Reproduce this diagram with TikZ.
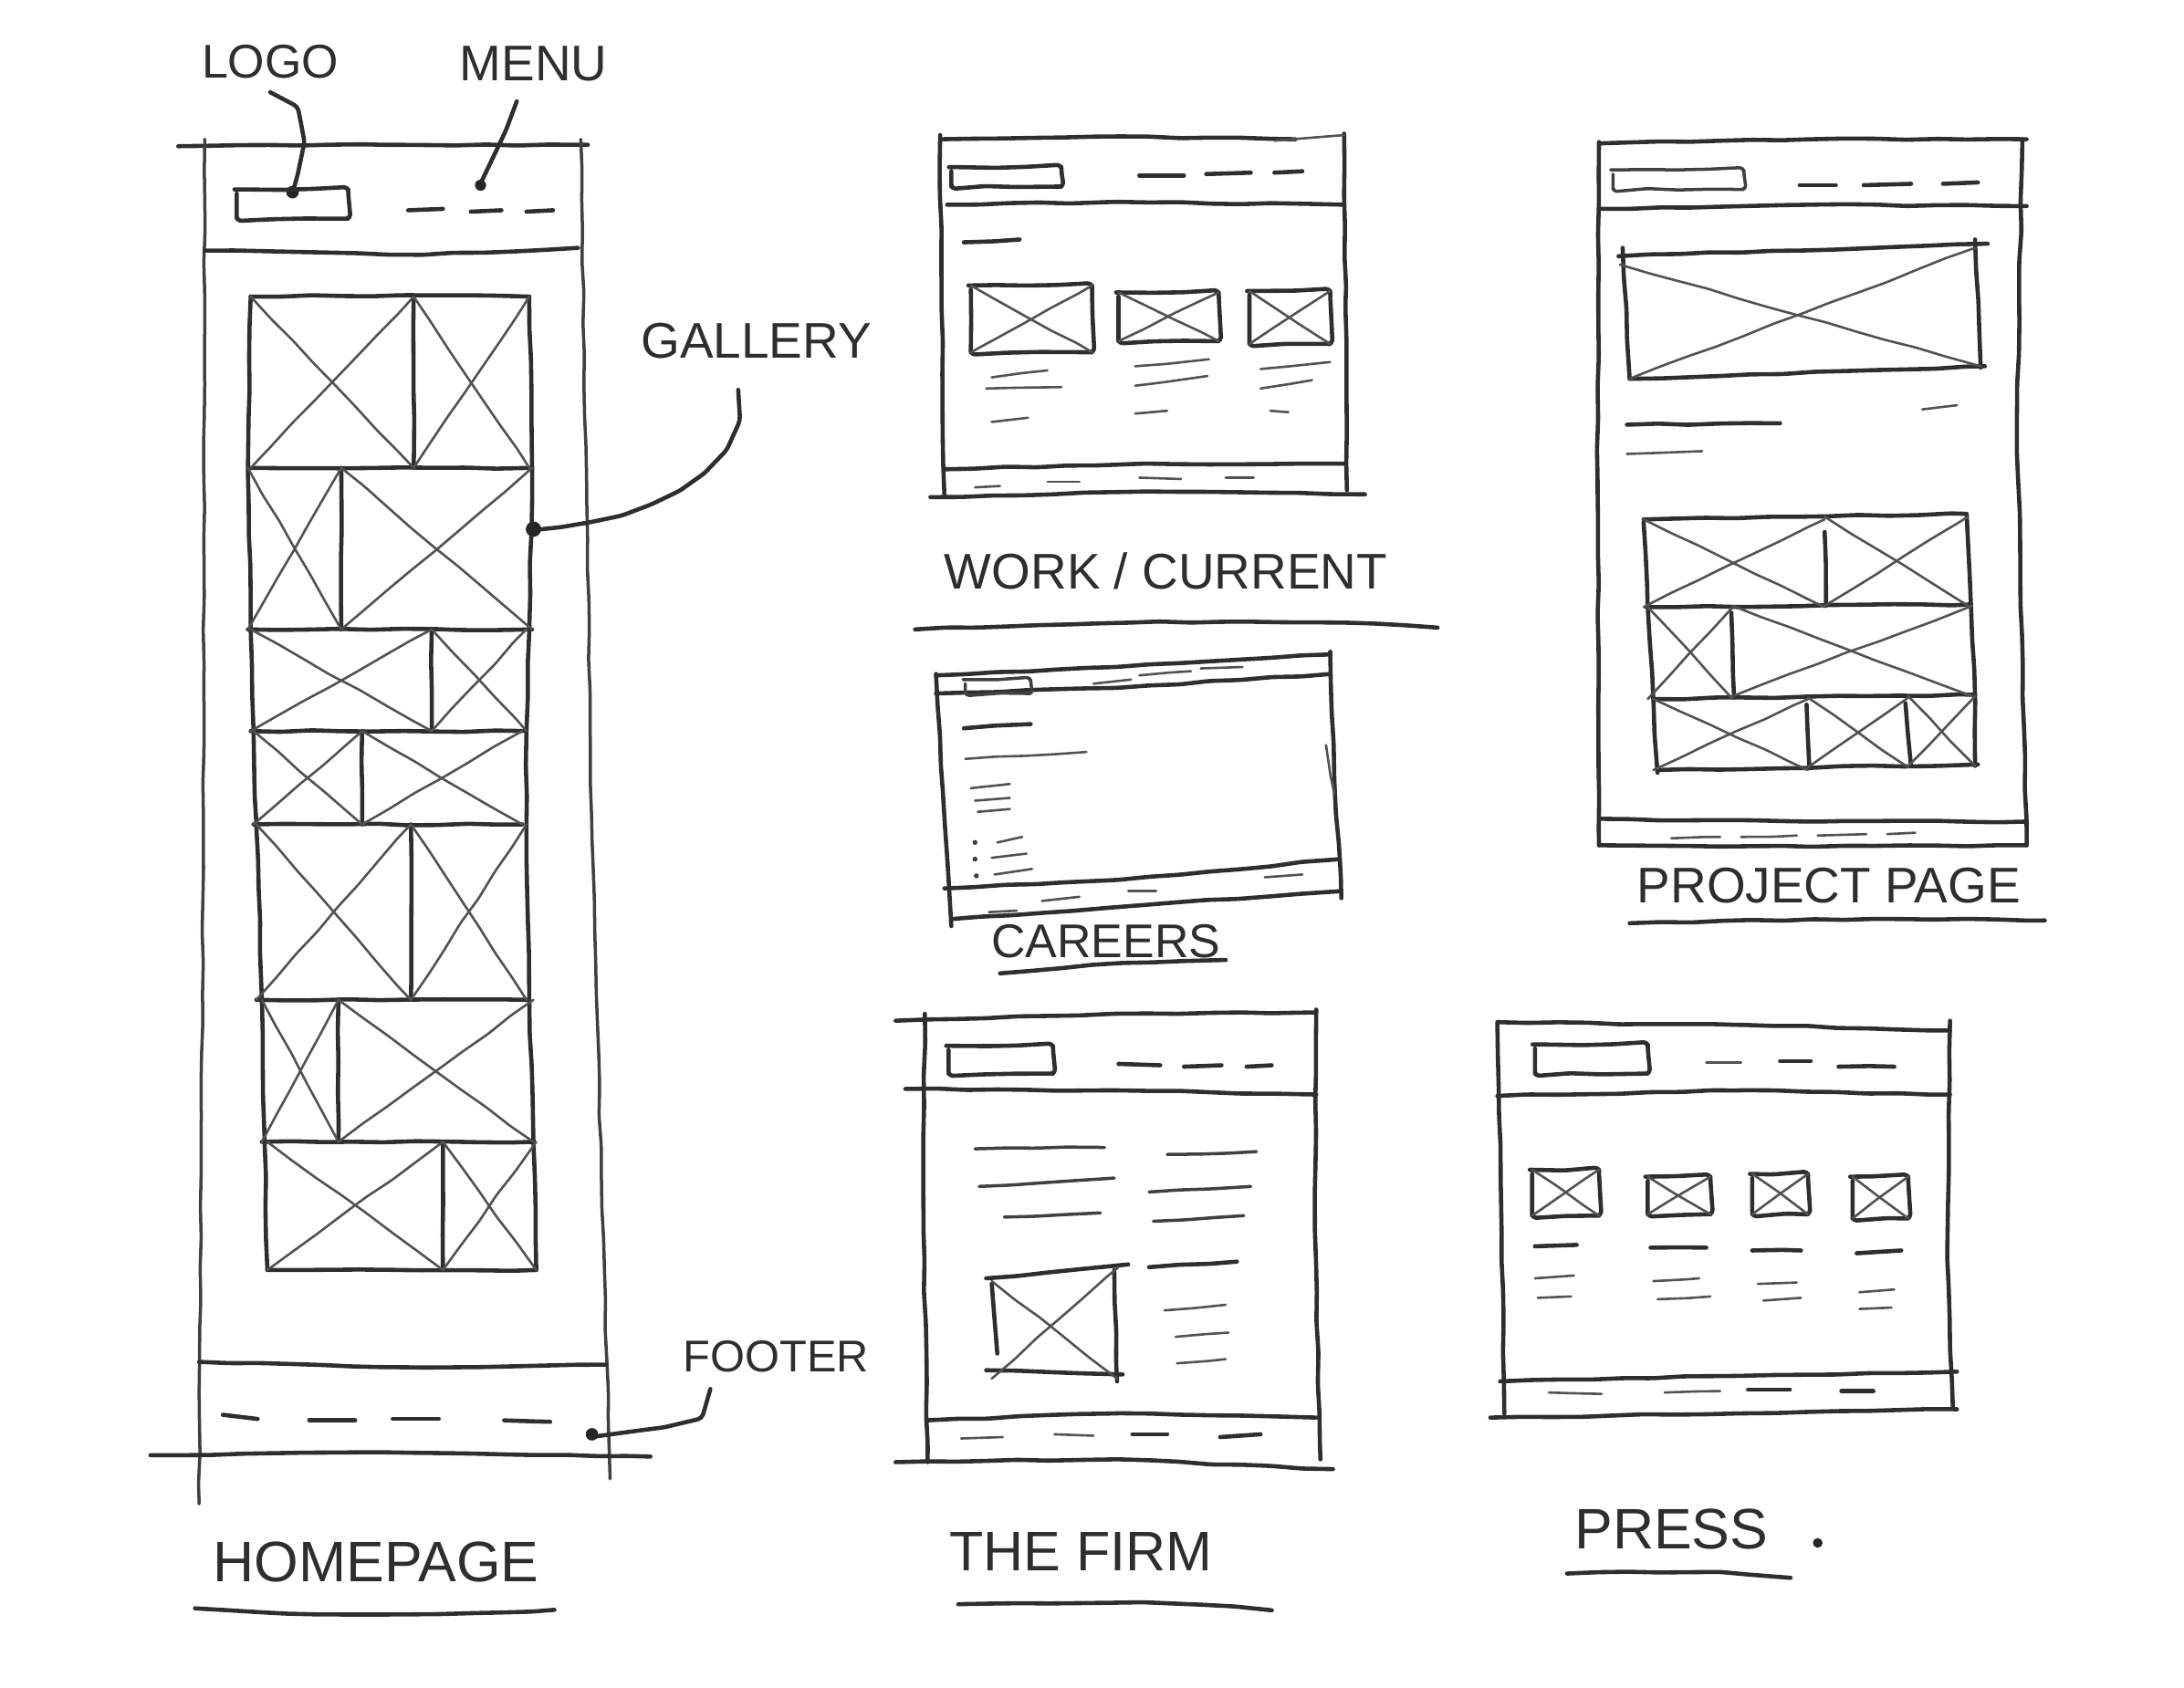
\documentclass[tikz,border=0pt]{standalone}
\usepackage{fontspec}
\setmainfont{Liberation Sans}
\usetikzlibrary{decorations.pathmorphing}
\tikzset{
  ink/.style={draw=black!82, line width=3pt, line cap=round, line join=round,
    decorate, decoration={random steps, segment length=22pt, amplitude=0.6pt}, rounded corners=3pt},
  inkm/.style={ink, line width=2.3pt, draw=black!75},
  fine/.style={ink, line width=1.7pt, draw=black!68},
  lbl/.style={text=black!82, inner sep=0pt},
}
\newcommand\xcell[4]{\draw[fine] (#1,#2) -- (#3,#4); \draw[fine] (#1,#4) -- (#3,#2);}
\newcommand\xrect[4]{\draw[ink] (#1,#2) rectangle (#3,#4); \xcell{#1}{#2}{#3}{#4}}
\begin{document}
\begin{tikzpicture}[x=1pt,y=-1pt]
\pgfmathsetseed{11}
\fill[white] (0,0) rectangle (1568,1212);
\useasboundingbox (0,0) rectangle (1568,1212);

% ================= HOMEPAGE =================
\node[lbl, font=\fontsize{34}{34}\selectfont] (logolbl) at (194,44) {LOGO};
\node[lbl, font=\fontsize{36}{36}\selectfont] (menulbl) at (383,46) {MENU};
\coordinate (logodot) at (210,138);
\coordinate (menudot) at (345,133);
\draw[ink] ([xshift=0pt,yshift=-10pt]logolbl.south) .. controls (220,80) and (214,112) .. (logodot);
\fill[black!85] (logodot) circle (4.5);
\draw[ink] ([xshift=-12pt,yshift=-14pt]menulbl.south) .. controls (362,98) and (352,115) .. (menudot);
\fill[black!85] (menudot) circle (4);

\draw[ink] (128,105) -- (280,104) -- (422,104);
\draw[inkm] (147,100) -- (146,600) -- (143,1080);
\draw[inkm] (417,100) -- (425,600) -- (438,1062);
\draw[ink] (147,180) -- (300,183) -- (415,178);
\draw[ink] (170,136) rectangle (250,157);
\draw[ink] (293,151) -- (318,150);
\draw[ink] (338,152) -- (360,151);
\draw[ink] (378,152) -- (397,151);

% gallery
\draw[ink] (180,213) -- (290,212) -- (380,213);
\draw[ink] (180,213) -- (178,336) -- (180,452) -- (182,525) -- (184,592) -- (188,718) -- (190,820) -- (192,912);
\draw[ink] (380,213) -- (382,336) -- (380,452) -- (378,525) -- (378,592) -- (380,718) -- (383,820) -- (385,912);
\foreach \t/\b/\d/\l/\r in {213/336/297/180/380, 336/452/245/178/382, 452/525/310/180/378, 525/592/260/182/375, 592/718/295/184/378, 718/820/243/188/383, 820/912/318/192/385}{
  \draw[ink] (\d,\t) -- (\d,\b);
  \draw[ink] (\l,\b) -- (\r,\b);
  \xcell{\l}{\t}{\d}{\b}
  \xcell{\d}{\t}{\r}{\b}
}
\node[lbl, font=\fontsize{36}{36}\selectfont] (gallbl) at (543,245) {GALLERY};
\coordinate (galdot) at (383,380);
\draw[ink] ([xshift=-13pt,yshift=-22pt]gallbl.south) .. controls (534,335) and (470,374) .. (galdot);
\fill[black!85] (galdot) circle (5.5);

% footer
\draw[ink] (143,978) -- (300,982) -- (435,980);
\draw[ink] (160,1016) -- (185,1019);
\draw[ink] (222,1020) -- (255,1020);
\draw[ink] (282,1019) -- (315,1019);
\draw[ink] (362,1020) -- (395,1021);
\draw[ink] (108,1045) -- (250,1043) -- (467,1046);
\node[lbl, font=\fontsize{32}{32}\selectfont] (footlbl) at (557,974) {FOOTER};
\coordinate (footdot) at (425,1030);
\draw[ink] ([xshift=-47pt,yshift=-12pt]footlbl.south) .. controls (505,1015) and (470,1028) .. (footdot);
\fill[black!85] (footdot) circle (4.5);
\node[lbl, font=\fontsize{41}{41}\selectfont] (homelbl) at (270,1122) {HOMEPAGE};
\draw[ink] (140,1155) .. controls (250,1162) and (330,1160) .. (398,1156);

% ================= WORK / CURRENT =================
\draw[ink] (675,97) -- (676,220) -- (678,355);
\draw[ink] (965,96) -- (966,220) -- (967,352);
\draw[ink] (675,100) -- (800,98) -- (930,100);
\draw[fine] (915,101) -- (965,97);
\draw[ink] (680,147) -- (800,145) -- (965,147);
\draw[ink] (683,120) rectangle (762,134);
\draw[ink] (818,126) -- (850,126);
\draw[ink] (866,125) -- (898,124);
\draw[ink] (915,124) -- (935,123);
\draw[ink] (692,174) -- (732,172);
\xrect{697}{205}{784}{253}
\xrect{803}{210}{875}{245}
\xrect{897}{209}{955}{247}
\draw[fine] (712,271) -- (752,266);
\draw[fine] (708,279) -- (762,278);
\draw[fine] (712,303) -- (738,300);
\draw[fine] (815,263) -- (868,258);
\draw[fine] (815,277) -- (867,270);
\draw[fine] (815,297) -- (838,295);
\draw[fine] (905,265) -- (955,260);
\draw[fine] (905,279) -- (942,273);
\draw[fine] (912,295) -- (925,296);
\draw[ink] (678,337) -- (820,333) -- (965,333);
\draw[fine] (700,350) -- (718,349);
\draw[fine] (752,346) -- (775,346);
\draw[fine] (818,343) -- (848,344);
\draw[fine] (880,343) -- (900,343);
\draw[ink] (668,357) -- (820,353) -- (980,355);
\node[lbl, font=\fontsize{36}{36}\selectfont] (worklbl) at (837,410) {WORK / CURRENT};
\draw[ink] (657,452) .. controls (800,446) and (950,444) .. (1032,451);

% ================= CAREERS =================
\draw[ink] (672,484) -- (677,570) -- (683,665);
\draw[ink] (955,468) -- (958,560) -- (963,645);
\draw[ink] (672,485) -- (800,479) -- (955,470);
\draw[ink] (672,498) -- (800,494) -- (955,484);
\draw[inkm] (693,488) rectangle (740,498);
\draw[fine] (785,491) -- (812,488);
\draw[fine] (818,485) -- (855,482);
\draw[fine] (862,480) -- (892,479);
\draw[ink] (692,523) -- (740,520);
\draw[fine] (693,545) -- (780,540);
\draw[fine] (697,566) -- (725,563);
\draw[fine] (700,575) -- (725,573);
\draw[fine] (702,583) -- (725,581);
\fill[black!75] (700,605) circle (1.8) (700,617) circle (1.8) (701,629) circle (1.8);
\draw[fine] (716,605) -- (734,601);
\draw[fine] (712,616) -- (737,613);
\draw[fine] (714,628) -- (741,624);
\draw[fine] (952,535) -- (958,570);
\draw[ink] (678,638) -- (800,632) -- (962,617);
\draw[ink] (683,660) -- (820,650) -- (962,640);
\draw[fine] (710,655) -- (730,654);
\draw[fine] (748,647) -- (775,644);
\draw[fine] (810,640) -- (830,640);
\draw[fine] (908,630) -- (935,628);
\node[lbl, font=\fontsize{34}{34}\selectfont] (carlbl) at (794,676) {CAREERS};
\draw[ink] (718,699) .. controls (780,693) and (840,689) .. (880,690);

% ================= PROJECT PAGE =================
\draw[ink] (1148,102) -- (1147,350) -- (1148,607);
\draw[ink] (1452,100) -- (1448,300) -- (1455,607);
\draw[ink] (1148,103) -- (1300,100) -- (1455,100);
\draw[ink] (1148,150) -- (1300,147) -- (1455,148);
\draw[inkm] (1158,122) rectangle (1252,136);
\draw[ink] (1292,133) -- (1318,133);
\draw[ink] (1338,133) -- (1372,132);
\draw[ink] (1395,132) -- (1420,131);
\draw[ink] (1165,178) -- (1170,272);
\draw[ink] (1418,172) -- (1422,264);
\draw[ink] (1162,184) -- (1427,175);
\draw[ink] (1170,272) -- (1425,263);
\draw[fine] (1163,190) -- (1422,263);
\draw[fine] (1170,272) -- (1418,178);
\draw[fine] (1380,294) -- (1405,291);
\draw[ink] (1168,305) -- (1278,304);
\draw[fine] (1168,326) -- (1222,324);
% gallery
\draw[ink] (1180,373) -- (1412,369);
\draw[ink] (1180,375) -- (1183,436) -- (1187,502) -- (1190,555);
\draw[ink] (1412,370) -- (1415,434) -- (1418,500) -- (1418,550);
\draw[ink] (1182,436) -- (1415,434);
\draw[ink] (1187,502) -- (1418,499);
\draw[ink] (1190,553) -- (1420,549);
\draw[ink] (1310,382) -- (1311,435);
\draw[ink] (1243,440) -- (1245,501);
\draw[ink] (1297,506) -- (1299,551);
\draw[ink] (1368,505) -- (1372,550);
\xcell{1180}{373}{1310}{436}
\xcell{1310}{371}{1413}{435}
\xcell{1183}{436}{1244}{502}
\xcell{1244}{435}{1416}{500}
\xcell{1187}{502}{1298}{553}
\xcell{1298}{501}{1370}{551}
\xcell{1370}{500}{1418}{550}
\draw[ink] (1148,588) -- (1300,590) -- (1455,590);
\draw[fine] (1200,602) -- (1235,601);
\draw[fine] (1250,601) -- (1290,600);
\draw[fine] (1305,600) -- (1340,599);
\draw[fine] (1355,599) -- (1375,598);
\draw[ink] (1148,607) -- (1300,608) -- (1455,607);
\node[lbl, font=\fontsize{36}{36}\selectfont] (projlbl) at (1313,636) {PROJECT PAGE};
\draw[ink] (1170,663) .. controls (1280,660) and (1380,659) .. (1468,661);

% ================= THE FIRM =================
\draw[ink] (643,733) -- (800,728) -- (945,727);
\draw[ink] (664,728) -- (663,880) -- (666,1050);
\draw[ink] (945,725) -- (944,880) -- (948,1048);
\draw[ink] (650,782) -- (800,783) -- (945,786);
\draw[ink] (681,751) rectangle (756,771);
\draw[ink] (803,764) -- (833,765);
\draw[ink] (850,766) -- (877,765);
\draw[ink] (895,766) -- (913,765);
\draw[inkm] (700,825) -- (793,824);
\draw[inkm] (703,852) -- (800,846);
\draw[inkm] (721,874) -- (790,871);
\draw[inkm] (838,829) -- (902,827);
\draw[inkm] (825,856) -- (898,852);
\draw[inkm] (828,877) -- (893,873);
\draw[ink] (708,918) -- (810,908);
\draw[ink] (712,922) -- (716,972);
\draw[ink] (800,912) -- (802,992);
\draw[ink] (708,984) -- (806,987);
\draw[fine] (712,920) -- (802,990);
\draw[fine] (712,990) -- (803,910);
\draw[ink] (825,910) -- (888,906);
\draw[fine] (836,941) -- (880,937);
\draw[fine] (844,960) -- (882,957);
\draw[fine] (845,979) -- (880,976);
\draw[ink] (665,1020) -- (800,1015) -- (945,1018);
\draw[fine] (690,1033) -- (720,1032);
\draw[fine] (757,1030) -- (785,1031);
\draw[ink] (813,1030) -- (838,1030);
\draw[ink] (876,1032) -- (905,1030);
\draw[ink] (643,1050) -- (800,1048) -- (957,1055);
\node[lbl, font=\fontsize{40}{40}\selectfont] (firmlbl) at (776,1114) {THE FIRM};
\draw[ink] (688,1152) .. controls (780,1150) and (860,1150) .. (913,1157);

% ================= PRESS =================
\draw[ink] (1075,734) -- (1250,736) -- (1400,740);
\draw[ink] (1075,735) -- (1078,880) -- (1080,1015);
\draw[ink] (1400,733) -- (1398,900) -- (1402,1010);
\draw[ink] (1075,787) -- (1250,783) -- (1400,786);
\draw[ink] (1102,750) rectangle (1183,771);
\draw[fine] (1225,763) -- (1250,763);
\draw[ink] (1278,762) -- (1300,762);
\draw[ink] (1320,766) -- (1360,766);
\xrect{1100}{840}{1148}{873}
\xrect{1183}{845}{1228}{872}
\xrect{1258}{843}{1298}{872}
\xrect{1330}{845}{1370}{875}
\draw[ink] (1102,895) -- (1132,894);
\draw[ink] (1185,896) -- (1225,896);
\draw[ink] (1258,898) -- (1293,898);
\draw[ink] (1333,900) -- (1365,898);
\draw[fine] (1102,918) -- (1130,916);
\draw[fine] (1104,932) -- (1128,931);
\draw[fine] (1187,920) -- (1220,918);
\draw[fine] (1190,933) -- (1228,931);
\draw[fine] (1262,922) -- (1290,921);
\draw[fine] (1266,934) -- (1293,932);
\draw[fine] (1335,928) -- (1360,926);
\draw[fine] (1335,940) -- (1358,939);
\draw[ink] (1077,992) -- (1250,988) -- (1405,985);
\draw[fine] (1112,1000) -- (1150,1001);
\draw[fine] (1195,1000) -- (1235,999);
\draw[ink] (1255,998) -- (1285,998);
\draw[ink] (1322,999) -- (1345,999);
\draw[ink] (1070,1018) -- (1250,1015) -- (1405,1012);
\node[lbl, font=\fontsize{41}{41}\selectfont] (presslbl) at (1200,1098) {PRESS};
\fill[black!85] (1305,1108) circle (3.5);
\draw[ink] (1125,1130) .. controls (1200,1128) and (1270,1128) .. (1285,1136);
\end{tikzpicture}
\end{document}
